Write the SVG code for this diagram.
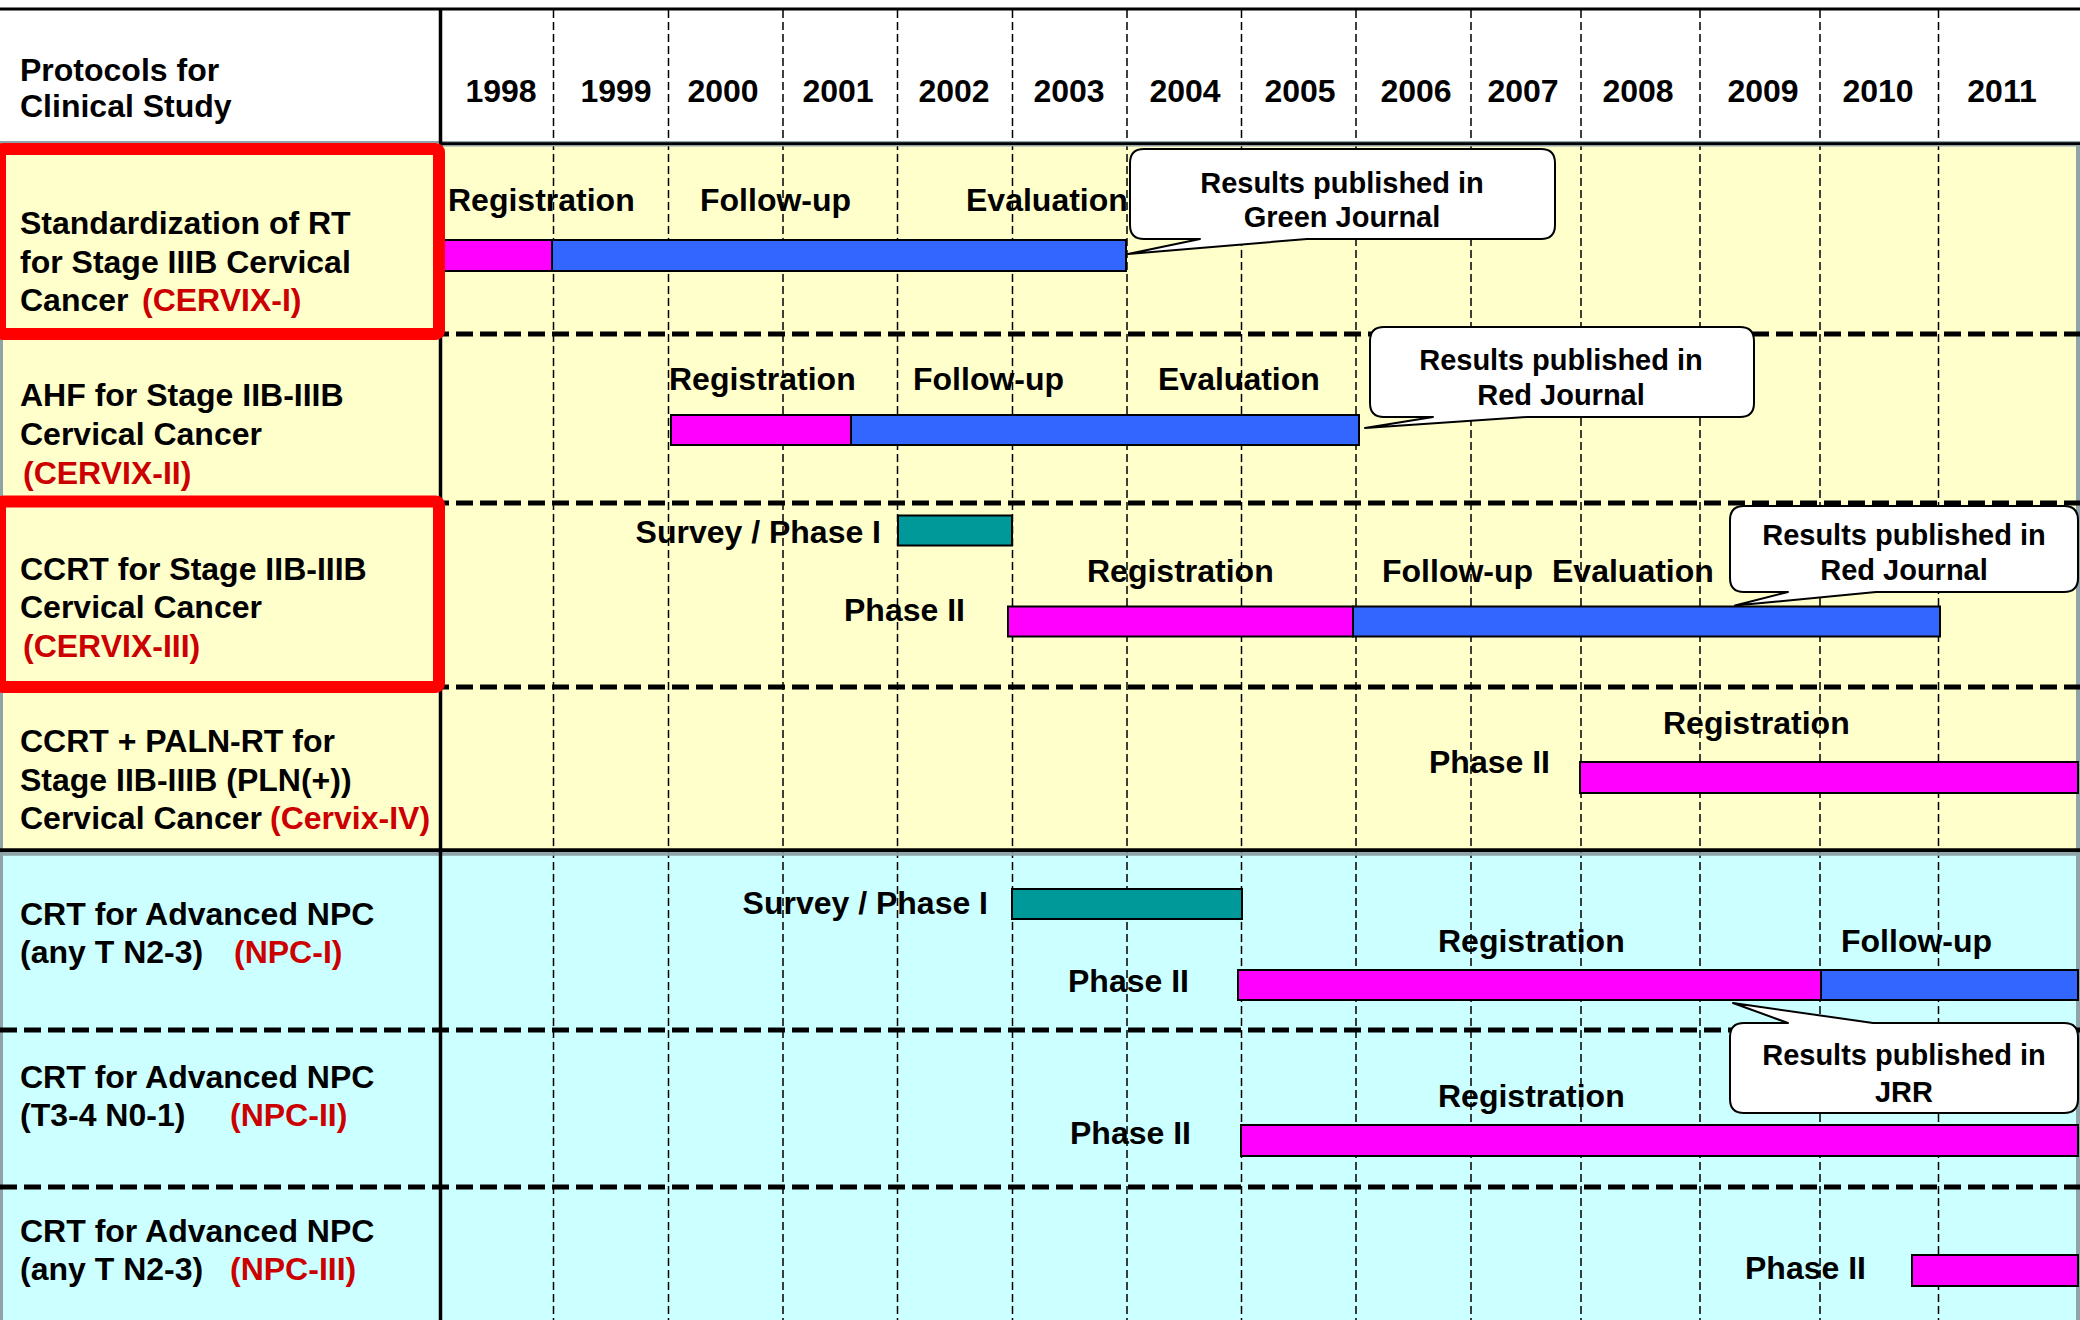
<svg xmlns="http://www.w3.org/2000/svg" width="2080" height="1320" viewBox="0 0 2080 1320">
<style>
text{font-family:"Liberation Sans",Arial,sans-serif;font-weight:bold;fill:#000}
.t{font-size:32px}
.y{font-size:32px;text-anchor:middle}
.c{font-size:29px;text-anchor:middle}
.red{fill:#CC0000}
.grid{stroke:#000;stroke-width:1.5;stroke-dasharray:8 4;fill:none}
.sep{stroke:#000;stroke-width:5;stroke-dasharray:17 7;fill:none}
.bar{stroke:#000;stroke-width:2}
.mag{fill:#FF00FF}
.blu{fill:#3366FF}
.teal{fill:#009999}
.box{fill:none;stroke:#FF0000;stroke-width:12}
.call{fill:#fff;stroke:#000;stroke-width:2;stroke-linejoin:round}
</style>
<rect x="0" y="0" width="2080" height="1320" fill="#fff"/>
<g id="backgrounds">
<rect x="0" y="144" width="2080" height="706" fill="#FFFFCC"/>
<rect x="0" y="852" width="2080" height="468" fill="#CCFFFF"/>
<line x1="1.5" y1="142" x2="1.5" y2="1320" stroke="#8fa3a8" stroke-width="3"/>
<line x1="2078" y1="146" x2="2078" y2="1320" stroke="#8fa3a8" stroke-width="4"/>
</g>
<g id="grid">
<line class="grid" x1="553.5" y1="10" x2="553.5" y2="1320"/>
<line class="grid" x1="668.5" y1="10" x2="668.5" y2="1320"/>
<line class="grid" x1="783" y1="10" x2="783" y2="1320"/>
<line class="grid" x1="897.5" y1="10" x2="897.5" y2="1320"/>
<line class="grid" x1="1012.5" y1="10" x2="1012.5" y2="1320"/>
<line class="grid" x1="1127" y1="10" x2="1127" y2="1320"/>
<line class="grid" x1="1241.5" y1="10" x2="1241.5" y2="1320"/>
<line class="grid" x1="1356" y1="10" x2="1356" y2="1320"/>
<line class="grid" x1="1471" y1="10" x2="1471" y2="1320"/>
<line class="grid" x1="1581" y1="10" x2="1581" y2="1320"/>
<line class="grid" x1="1700" y1="10" x2="1700" y2="1320"/>
<line class="grid" x1="1820" y1="10" x2="1820" y2="1320"/>
<line class="grid" x1="1938.5" y1="10" x2="1938.5" y2="1320" stroke-width="2.5" stroke-dasharray="10 5"/>
<line class="sep" x1="0" y1="334" x2="2080" y2="334"/>
<line class="sep" x1="0" y1="503" x2="2080" y2="503"/>
<line class="sep" x1="0" y1="687" x2="2080" y2="687"/>
<line class="sep" x1="0" y1="1030" x2="2080" y2="1030"/>
<line class="sep" x1="0" y1="1187" x2="2080" y2="1187"/>
<line x1="0" y1="9" x2="2080" y2="9" stroke="#000" stroke-width="3"/>
<line x1="0" y1="142" x2="2080" y2="142" stroke="#8fa3a8" stroke-width="2"/>
<line x1="440" y1="143.8" x2="2080" y2="143.8" stroke="#000" stroke-width="3"/>
<line x1="440" y1="145.8" x2="2080" y2="145.8" stroke="#8fa3a8" stroke-width="1.5"/>
<line x1="0" y1="850.3" x2="2080" y2="850.3" stroke="#000" stroke-width="4"/>
<line x1="0" y1="854" x2="2080" y2="854" stroke="#8fa3a8" stroke-width="3.5"/>
<line x1="440.5" y1="9" x2="440.5" y2="1320" stroke="#000" stroke-width="3.5"/>
</g>
<g id="header">
<text class="t" x="20" y="81">Protocols for</text>
<text class="t" x="20" y="117">Clinical Study</text>
<text class="y" x="501" y="102">1998</text>
<text class="y" x="616" y="102">1999</text>
<text class="y" x="723" y="102">2000</text>
<text class="y" x="838" y="102">2001</text>
<text class="y" x="954" y="102">2002</text>
<text class="y" x="1069" y="102">2003</text>
<text class="y" x="1185" y="102">2004</text>
<text class="y" x="1300" y="102">2005</text>
<text class="y" x="1416" y="102">2006</text>
<text class="y" x="1523" y="102">2007</text>
<text class="y" x="1638" y="102">2008</text>
<text class="y" x="1763" y="102">2009</text>
<text class="y" x="1878" y="102">2010</text>
<text class="y" x="2002" y="102">2011</text>
</g>
<g id="row-cervix-1">
<text class="t" x="20" y="234">Standardization of RT</text>
<text class="t" x="20" y="273">for Stage IIIB Cervical</text>
<text class="t" x="20" y="311">Cancer<tspan class="red" x="142">(CERVIX-I)</tspan></text>
<text class="t" x="448" y="211">Registration</text>
<text class="t" x="700" y="211">Follow-up</text>
<text class="t" x="966" y="211">Evaluation</text>
<rect class="bar mag" x="443" y="240" width="109" height="31"/>
<rect class="bar blu" x="552" y="240" width="574" height="31"/>
</g>
<g id="row-cervix-2">
<text class="t" x="20" y="406">AHF for Stage IIB-IIIB</text>
<text class="t" x="20" y="445">Cervical Cancer</text>
<text class="t red" x="23" y="484">(CERVIX-II)</text>
<text class="t" x="669" y="390">Registration</text>
<text class="t" x="913" y="390">Follow-up</text>
<text class="t" x="1158" y="390">Evaluation</text>
<rect class="bar mag" x="671" y="415" width="180" height="30"/>
<rect class="bar blu" x="851" y="415" width="508" height="30"/>
</g>
<g id="row-cervix-3">
<text class="t" x="20" y="580">CCRT for Stage IIB-IIIB</text>
<text class="t" x="20" y="618">Cervical Cancer</text>
<text class="t red" x="23" y="657">(CERVIX-III)</text>
<text class="t" x="881" y="543" text-anchor="end">Survey / Phase I</text>
<rect class="bar teal" x="898" y="515.5" width="114" height="30"/>
<text class="t" x="1087" y="582">Registration</text>
<text class="t" x="844" y="621">Phase II</text>
<text class="t" x="1382" y="582">Follow-up</text>
<text class="t" x="1552" y="582">Evaluation</text>
<rect class="bar mag" x="1008" y="606.5" width="345" height="30"/>
<rect class="bar blu" x="1353" y="606.5" width="587" height="30" stroke="#4466cc"/>
</g>
<g id="row-cervix-4">
<text class="t" x="20" y="752">CCRT + PALN-RT for</text>
<text class="t" x="20" y="791">Stage IIB-IIIB (PLN(+))</text>
<text class="t" x="20" y="829">Cervical Cancer<tspan class="red" x="270">(Cervix-IV)</tspan></text>
<text class="t" x="1663" y="734">Registration</text>
<text class="t" x="1429" y="773">Phase II</text>
<rect class="bar mag" x="1580" y="762" width="498" height="31"/>
</g>
<g id="row-npc-1">
<text class="t" x="20" y="925">CRT for Advanced NPC</text>
<text class="t" x="20" y="963">(any T N2-3)<tspan class="red" x="234">(NPC-I)</tspan></text>
<text class="t" x="988" y="914" text-anchor="end">Survey / Phase I</text>
<rect class="bar teal" x="1012" y="889" width="230" height="30"/>
<text class="t" x="1068" y="992">Phase II</text>
<text class="t" x="1438" y="952">Registration</text>
<text class="t" x="1841" y="952">Follow-up</text>
<rect class="bar mag" x="1238" y="970" width="583" height="30"/>
<rect class="bar blu" x="1821" y="970" width="257" height="30"/>
</g>
<g id="row-npc-2">
<text class="t" x="20" y="1088">CRT for Advanced NPC</text>
<text class="t" x="20" y="1126">(T3-4 N0-1)<tspan class="red" x="230">(NPC-II)</tspan></text>
<text class="t" x="1070" y="1144">Phase II</text>
<text class="t" x="1438" y="1107">Registration</text>
<rect class="bar mag" x="1241" y="1125" width="837" height="31"/>
</g>
<g id="row-npc-3">
<text class="t" x="20" y="1242">CRT for Advanced NPC</text>
<text class="t" x="20" y="1280">(any T N2-3)<tspan class="red" x="230">(NPC-III)</tspan></text>
<text class="t" x="1745" y="1279">Phase II</text>
<rect class="bar mag" x="1912" y="1255" width="166" height="31"/>
</g>
<g id="highlight-boxes">
<rect class="box" x="0" y="149" width="439" height="185" rx="3"/>
<rect class="box" x="0" y="501.5" width="439" height="185.5" rx="3"/>
</g>
<g id="callout-green-journal">
<path class="call" d="M1144,149 H1541 Q1555,149 1555,163 V225 Q1555,239 1541,239 H1307 L1128,254 L1200,239 H1144 Q1130,239 1130,225 V163 Q1130,149 1144,149 Z"/>
<text class="c" x="1342" y="193">Results published in</text>
<text class="c" x="1342" y="227">Green Journal</text>
</g>
<g id="callout-red-journal-1">
<path class="call" d="M1384,327 H1740 Q1754,327 1754,341 V403 Q1754,417 1740,417 H1527 L1365,428 L1433,417 H1384 Q1370,417 1370,403 V341 Q1370,327 1384,327 Z"/>
<text class="c" x="1561" y="370">Results published in</text>
<text class="c" x="1561" y="405">Red Journal</text>
</g>
<g id="callout-red-journal-2">
<path class="call" d="M1744,506 H2064 Q2078,506 2078,520 V578 Q2078,592 2064,592 H1876 L1735,605.5 L1788,592 H1744 Q1730,592 1730,578 V520 Q1730,506 1744,506 Z"/>
<text class="c" x="1904" y="545">Results published in</text>
<text class="c" x="1904" y="580">Red Journal</text>
</g>
<g id="callout-jrr">
<path class="call" d="M1744,1023 H1788 L1733,1003 L1873,1023 H2064 Q2078,1023 2078,1037 V1099 Q2078,1113 2064,1113 H1744 Q1730,1113 1730,1099 V1037 Q1730,1023 1744,1023 Z"/>
<text class="c" x="1904" y="1065">Results published in</text>
<text class="c" x="1904" y="1102">JRR</text>
</g>
</svg>
